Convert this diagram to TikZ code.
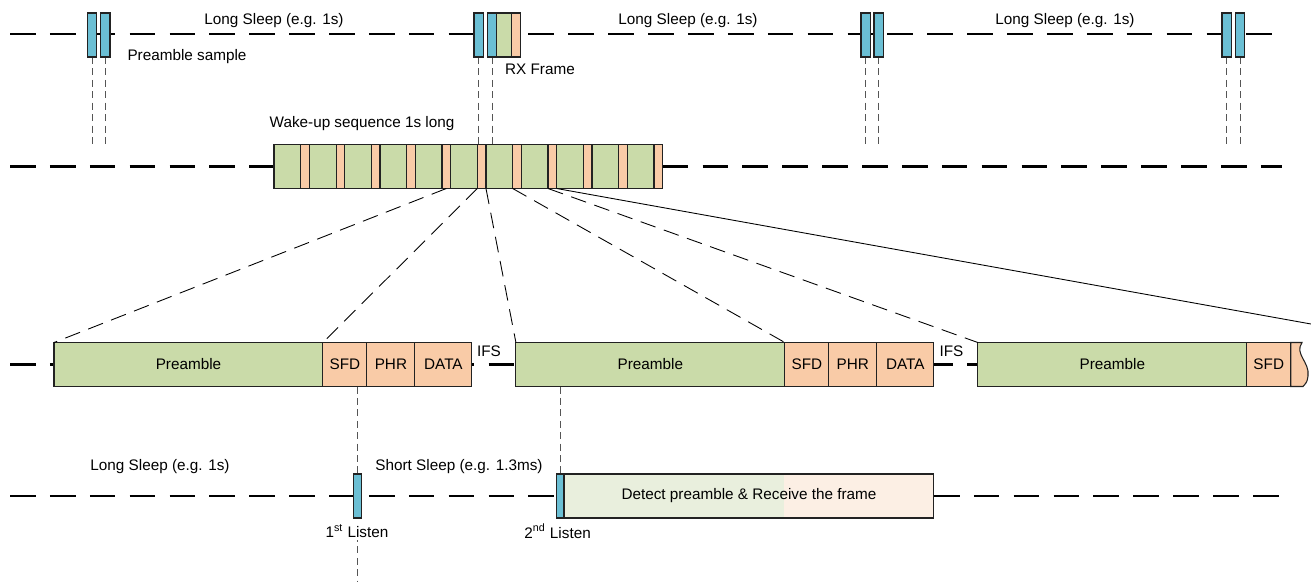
\documentclass[tikz,border=0pt]{standalone}
\usepackage{fontspec}
\setmainfont{Liberation Sans}
\usetikzlibrary{positioning, calc, backgrounds}
\usepackage{xcolor}
\definecolor{ListenBlue}{HTML}{6BBFD4}
\definecolor{PreGreen}{HTML}{CADBA9}
\definecolor{HdrOrange}{HTML}{F9CBA7}
\definecolor{PaleGreen}{HTML}{E9EFDD}
\definecolor{PaleOrange}{HTML}{FCEFE4}
\definecolor{EdgeBlack}{HTML}{222222}
\definecolor{GuideGrey}{HTML}{555555}
\newcommand{\figfont}{\fontsize{8.7}{10.4}\selectfont}
\tikzset{
    % Box styles - flat rectangles, no gaps
    listen/.style={
        rectangle,
        draw=EdgeBlack,
        fill=ListenBlue,
        line width=0.6pt,
        minimum width=0.188cm,
        minimum height=0.88cm,
        inner sep=0pt,
        outer sep=0pt
    },
    field/.style={
        rectangle,
        draw=EdgeBlack,
        line width=0.6pt,
        minimum height=0.88cm,
        inner sep=0pt,
        outer sep=0pt,
        anchor=west,
        font=\figfont
    },
    preamble/.style={
        field,
        fill=PreGreen,
        minimum width=5.38cm
    },
    header/.style={
        field,
        fill=HdrOrange
    },
    lbl/.style={
        font=\figfont,
        inner sep=1pt
    },
    % Line styles
    timeline/.style={
        line width=1.6pt,
        dash pattern=on 14.6pt off 8.1pt
    },
    guide/.style={
        draw=GuideGrey,
        line width=0.5pt,
        dash pattern=on 4pt off 2.5pt
    },
    zoomline/.style={
        line width=0.5pt,
        dash pattern=on 9pt off 5pt
    }
}

\begin{document}
\begin{tikzpicture}[x=0.02cm, y=-0.02cm]
    \useasboundingbox (0,0) rectangle (1311,582);

    % Row 1: periodic preamble sampling
    \node[listen] (s1a) at (92,35) {};
    \node[listen] (s1b) at (105.3,35) {};
    \node[listen] (s2a) at (478.7,35) {};
    \node[listen] (s2b) at (492,35) {};
    \node[field, fill=PreGreen, minimum width=0.3cm, right=0pt of s2b] (rxg) {};
    \node[field, fill=HdrOrange, minimum width=0.18cm, right=0pt of rxg] (rxo) {};
    \node[listen] (s3a) at (865.7,35) {};
    \node[listen] (s3b) at (878.7,35) {};
    \node[listen] (s4a) at (1226.7,35) {};
    \node[listen] (s4b) at (1240,35) {};

    \node[lbl] (ls1) at (274,21) {Long Sleep (e.g. 1s)};
    \node[lbl] (ls2) at (688,21) {Long Sleep (e.g. 1s)};
    \node[lbl] (ls3) at (1065,21) {Long Sleep (e.g. 1s)};
    \node[lbl] (pss) at (187,57) {Preamble sample};
    \node[lbl] (rxf) at (540,69) {RX Frame};

    % Row 2: wake-up sequence
    \node[lbl] (wus) at (362,124) {Wake-up sequence 1s long};
    \foreach \i in {0,...,10} {
        \node[field, fill=PreGreen, minimum width=0.534cm] (g\i) at ({274+35.33*\i},166.5) {};
        \node[field, fill=HdrOrange, minimum width=0.173cm] (o\i) at (g\i.east) {};
    }

    % Row 3: frames
    \node[preamble] (p1) at (54,364.5) {Preamble};
    \node[header, minimum width=0.88cm, right=0pt of p1] (sfd1) {SFD};
    \node[header, minimum width=0.96cm, right=0pt of sfd1] (phr1) {PHR};
    \node[header, minimum width=1.14cm, right=0pt of phr1] (data1) {DATA};
    \node[preamble, right=0.88cm of data1] (p2) {Preamble};
    \node[header, minimum width=0.88cm, right=0pt of p2] (sfd2) {SFD};
    \node[header, minimum width=0.96cm, right=0pt of sfd2] (phr2) {PHR};
    \node[header, minimum width=1.14cm, right=0pt of phr2] (data2) {DATA};
    \node[preamble, right=0.88cm of data2] (p3) {Preamble};
    \node[header, minimum width=0.88cm, right=0pt of p3] (sfd3) {SFD};
    \draw[fill=HdrOrange, draw=EdgeBlack, line width=0.6pt] (sfd3.north east) -- (1302,342.5)
        .. controls (1294,354) and (1310,362) .. (1308,376)
        .. controls (1307,382) .. (1303,386.5) -- (sfd3.south east) -- cycle;
    \node[lbl] (ifs1) at (489,351) {IFS};
    \node[lbl] (ifs2) at (951.4,351) {IFS};

    % Row 4: receiver listening
    \node[listen, minimum width=0.17cm] (l1) at (357.7,496) {};
    \node[listen, minimum width=0.152cm] (l2) at (560.2,496) {};
    \node[field, fill=PaleOrange, minimum width=7.4cm, right=0pt of l2,
        path picture={\fill[PaleGreen] (path picture bounding box.south west)
            rectangle ([xshift=4.4cm]path picture bounding box.north west);}] (rx)
        {Detect preamble \& Receive the frame};
    \node[lbl] (ls4) at (160,467) {Long Sleep (e.g. 1s)};
    \node[lbl] (ss) at (459,467) {Short Sleep (e.g. 1.3ms)};
    \node[lbl, fill=white] (t1) at (357,531) {1\textsuperscript{st} Listen};
    \node[lbl] (t2) at (557.6,531) {2\textsuperscript{nd} Listen};

    % Zoom lines
    \coordinate (cut) at (1311,324);
    \draw[zoomline] (o4.south) -- (p1.north west);
    \draw[zoomline] (o5.south west) -- (sfd1.north west);
    \draw[zoomline] (o5.south east) -- (p2.north west);
    \draw[zoomline] (o6.south west) -- (sfd2.north west);
    \draw[zoomline] (o7.south west) -- (p3.north west);
    \draw[line width=0.5pt] (o7.south east) -- (cut);

    \begin{scope}[on background layer]
        \coordinate (gb) at (0,148);
        \coordinate (bot) at (0,582);
        \draw[timeline] (10,34) -- (1282,34);
        \draw[timeline] (10,166.5) -- (g0.west);
        \draw[timeline] (o10.east) -- (1282,166.5);
        \draw[timeline] (10,364.5) -- (sfd3.east);
        \draw[timeline] (10,496) -- (l2.west);
        \draw[timeline] (rx.east) -- (1282,496);
        \foreach \n in {s1a,s1b,s2a,s2b,s3a,s3b,s4a,s4b}
            \draw[guide] (\n.south) -- (\n.south |- gb);
        \draw[guide] (l1.north |- sfd1.south) -- (l1.south |- bot);
        \draw[guide] (l2.north |- p2.south) -- (l2.north);
    \end{scope}
\end{tikzpicture}
\end{document}
